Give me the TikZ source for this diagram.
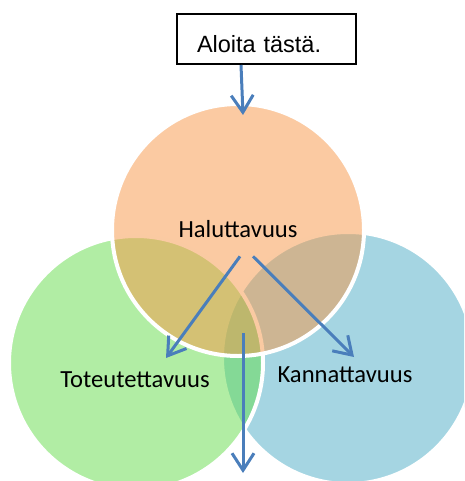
\documentclass[tikz,border=0pt]{standalone}
\usepackage{fontspec}
\setmainfont{Carlito}
\newfontfamily\boxfont{Liberation Sans}
\usetikzlibrary{arrows.meta}

\definecolor{orangebase}{RGB}{247,150,70}
\definecolor{bluebase}{RGB}{75,172,198}
\definecolor{greenbase}{RGB}{100,220,74}
\definecolor{arrowblue}{RGB}{74,126,187}

\begin{document}
\begin{tikzpicture}[x=1pt,y=-1pt,
  venn/.style={circle, inner sep=0pt, draw=white, line width=4pt, fill opacity=0.5},
  vennlabel/.style={font=\fontsize{24.6}{29}\selectfont, anchor=base, inner sep=0pt},
  flow/.style={draw=arrowblue, line width=3pt,
    -{Straight Barb[length=17pt,width=22pt,line width=3pt]}}
]
\useasboundingbox (0,0) rectangle (464,481);
\clip (0,0) rectangle (464,481);

% three overlapping translucent circles
\node[venn, fill=bluebase,   minimum size=252pt] (profit)   at (348,358) {};
\node[venn, fill=greenbase,  minimum size=254pt] (feasible) at (136,363) {};
\node[venn, fill=orangebase, minimum size=252pt] (want)     at (238,230) {};

% starting box
\node[draw=black, line width=2pt, anchor=north west, inner sep=0pt,
      text width=179pt, align=left, text height=39pt, text depth=11pt,
      font=\boxfont\fontsize{23.5}{27}\selectfont] (box) at (176,13)
      {\hspace*{20pt}Aloita tästä.};

% labels
\node[vennlabel] (hal) at (238,237) {Haluttavuus};
\node[vennlabel] (tot) at (135,387) {Toteutettavuus};
\node[vennlabel] (kan) at (345,382) {Kannattavuus};

% arrow end points
\coordinate (entry)   at (243,115);
\coordinate (toleft)  at (166,358);
\coordinate (toright) at (354,357);
\coordinate (core)    at (243,333);
\coordinate (outcome) at (243,473);

% arrows
\draw[flow] ([xshift=-25.5pt]box.south) -- (entry);
\draw[flow] ([xshift=2pt,yshift=-19pt]hal.south) -- (toleft);
\draw[flow] ([xshift=15pt,yshift=-19pt]hal.south) -- (toright);
\draw[flow] (core) -- (outcome);
\end{tikzpicture}
\end{document}
